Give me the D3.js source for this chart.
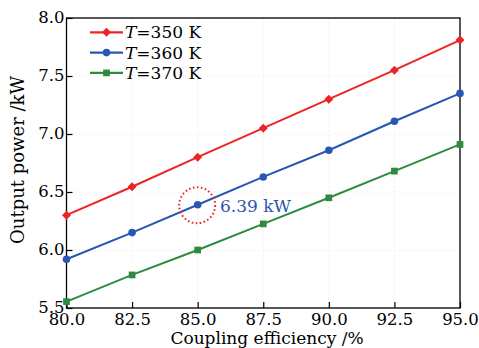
<!DOCTYPE html>
<html><head><meta charset="utf-8">
<script src="https://cdn.jsdelivr.net/npm/d3@7"></script>
<style>body{margin:0;background:#fff}svg{display:block}text{font-family:"DejaVu Serif",serif}</style>
</head><body><svg id="c" width="479" height="348"></svg>
<script>
const xVals = [80.0, 82.5, 85.0, 87.5, 90.0, 92.5, 95.0];
const t350 = [6.30, 6.545, 6.80, 7.05, 7.30, 7.55, 7.81];
const t360 = [5.92, 6.15, 6.39, 6.63, 6.86, 7.11, 7.35];
const t370 = [5.555, 5.785, 6.00, 6.225, 6.45, 6.68, 6.91];
const seriesNames = ["350 K", "360 K", "370 K"];
const xTicks = [80.0, 82.5, 85.0, 87.5, 90.0, 92.5, 95.0];
const yTicks = [5.5, 6.0, 6.5, 7.0, 7.5, 8.0];
const annotation = {x: 85.0, y: 6.39, label: "6.39 kW"};

const svg = d3.select("#c");
const L = 66.5, R = 460, T = 18, B = 308;
const x = d3.scaleLinear().domain([80, 95]).range([L, R]);
const y = d3.scaleLinear().domain([5.5, 8.0]).range([B, T]);

// faint grid
const g = svg.append("g");
g.selectAll(".gx").data(xTicks).enter().append("line")
  .attr("x1", d => x(d)).attr("x2", d => x(d)).attr("y1", T).attr("y2", B)
  .attr("stroke", "#ececec").attr("stroke-dasharray", "2,2").attr("stroke-width", 0.8);
g.selectAll(".gy").data(yTicks).enter().append("line")
  .attr("y1", d => y(d)).attr("y2", d => y(d)).attr("x1", L).attr("x2", R)
  .attr("stroke", "#ececec").attr("stroke-dasharray", "2,2").attr("stroke-width", 0.8);

// frame
svg.append("rect").attr("x", L).attr("y", T).attr("width", R - L).attr("height", B - T)
  .attr("fill", "none").attr("stroke", "#000").attr("stroke-width", 1.3);

const xAxis = d3.axisBottom(x).tickValues(xTicks).tickFormat(d3.format(".1f")).tickSizeInner(-6).tickSizeOuter(0).tickPadding(5);
const yAxis = d3.axisLeft(y).tickValues(yTicks).tickFormat(d3.format(".1f")).tickSizeInner(-6).tickSizeOuter(0).tickPadding(2);
const ax = svg.append("g").attr("transform", `translate(0,${B})`).call(xAxis);
const ay = svg.append("g").attr("transform", `translate(${L},0)`).call(yAxis);
[ax, ay].forEach(a => {
  a.select(".domain").remove();
  a.selectAll("line").attr("stroke", "#000").attr("stroke-width", 1.2);
  a.selectAll("text").attr("font-family", "DejaVu Serif").attr("font-size", 16.5).attr("fill", "#000");
});
ay.selectAll("text").attr("dy", "0.3em");

const colors = ["#ee2424", "#2757b0", "#2e8a3e"];
const data = [t350, t360, t370];
const line = d3.line().x((d, i) => x(xVals[i])).y(d => y(d));
const shapes = [d3.symbolSquare, d3.symbolCircle, d3.symbolSquare];
const sizes = [40, 45, 45];
const rots = [45, 0, 0];

data.forEach((s, k) => {
  svg.append("path").datum(s).attr("d", line).attr("fill", "none")
    .attr("stroke", colors[k]).attr("stroke-width", 2);
  svg.selectAll(".m" + k).data(s).enter().append("path")
    .attr("transform", (d, i) => `translate(${x(xVals[i])},${y(d)}) rotate(${rots[k]})`)
    .attr("d", d3.symbol().type(shapes[k]).size(sizes[k]))
    .attr("fill", colors[k]);
});

// legend
const lg = svg.append("g");
seriesNames.forEach((n, k) => {
  const yy = 32.3 + k * 20.3;
  lg.append("line").attr("x1", 90).attr("x2", 123).attr("y1", yy).attr("y2", yy)
    .attr("stroke", colors[k]).attr("stroke-width", 2.2);
  lg.append("path").attr("transform", `translate(106.5,${yy}) rotate(${rots[k]})`)
    .attr("d", d3.symbol().type(shapes[k]).size(sizes[k])).attr("fill", colors[k]);
  const t = lg.append("text").attr("x", 125).attr("y", yy + 6).attr("font-size", 17).attr("fill", "#000");
  t.append("tspan").attr("font-style", "italic").text("T");
  t.append("tspan").text("=" + n);
});

// annotation
svg.append("circle").attr("cx", x(annotation.x) - 0.5).attr("cy", y(annotation.y) + 0.5).attr("r", 18)
  .attr("fill", "none").attr("stroke", "#ee2424").attr("stroke-width", 2).attr("stroke-dasharray", "1.6,2.4");
svg.append("text").attr("x", 220).attr("y", 211.5).attr("font-size", 17).attr("fill", "#2f55a8").text(annotation.label);

// axis titles
svg.append("text").attr("x", 267).attr("y", 344).attr("text-anchor", "middle").attr("font-size", 17).attr("fill", "#000")
  .text("Coupling efficiency /%");
svg.append("text").attr("transform", "translate(24,160) rotate(-90)").attr("text-anchor", "middle").attr("font-size", 18).attr("fill", "#000")
  .text("Output power /kW");
</script></body></html>
